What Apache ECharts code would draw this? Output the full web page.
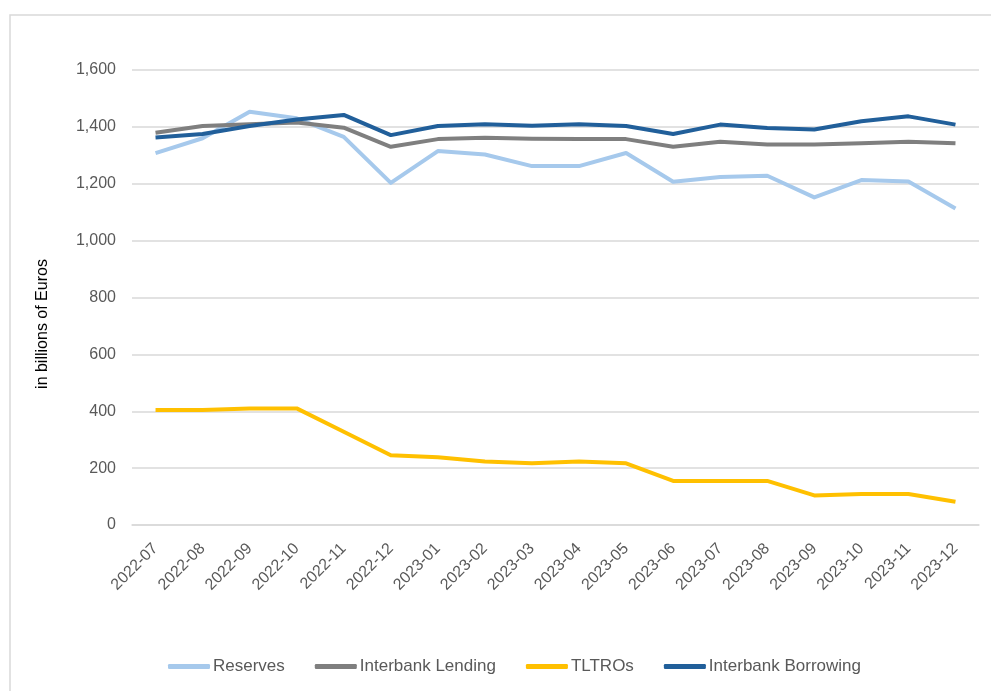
<!DOCTYPE html>
<html>
<head>
<meta charset="utf-8">
<script src="https://cdn.jsdelivr.net/npm/echarts@6/dist/echarts.min.js"></script>
<style>
  html, body { margin: 0; padding: 0; background: #fff; }
  #chart { width: 991px; height: 691px; }
</style>
</head>
<body>
<div id="chart"></div>
<script>
// months on the x axis
var months = ["2022-07", "2022-08", "2022-09", "2022-10", "2022-11", "2022-12",
  "2023-01", "2023-02", "2023-03", "2023-04", "2023-05", "2023-06",
  "2023-07", "2023-08", "2023-09", "2023-10", "2023-11", "2023-12"];

// billions of euros
var reserves = [1308, 1360, 1453, 1430, 1365, 1203, 1315, 1303, 1262, 1262, 1308, 1207, 1224, 1228, 1152, 1213, 1208, 1113];
var interbankLending = [1379, 1403, 1409, 1415, 1397, 1330, 1357, 1362, 1358, 1357, 1357, 1330, 1348, 1338, 1338, 1342, 1348, 1342];
var tltros = [404, 404, 410, 410, 328, 245, 238, 223, 217, 223, 217, 155, 155, 155, 104, 109, 109, 82];
var interbankBorrowing = [1363, 1375, 1403, 1426, 1442, 1371, 1403, 1409, 1404, 1409, 1403, 1375, 1408, 1396, 1391, 1420, 1437, 1408];

var myChart = echarts.init(document.getElementById("chart"));

function line(name, data, color) {
  return {
    name: name,
    type: "line",
    data: data,
    symbol: "none",
    lineStyle: { width: 4, color: color, join: "round" },
    itemStyle: { color: color }
  };
}

var option = {
  backgroundColor: "#fff",
  animation: false,
  textStyle: { fontFamily: "Liberation Sans" },
  graphic: [
    {
      type: "rect",
      shape: { x: 10, y: 15, width: 1000, height: 700 },
      style: { fill: "none", stroke: "#d9d9d9", lineWidth: 1.5 },
      silent: true
    },
    {
      // y axis title
      type: "text",
      x: 43,
      y: 324,
      rotation: Math.PI / 2,
      style: {
        text: "in billions of Euros",
        fill: "#000",
        font: "16px 'Liberation Sans'",
        align: "center",
        verticalAlign: "middle"
      },
      silent: true
    }
  ],
  grid: { left: 132, right: 12, top: 70, bottom: 166 },
  legend: {
    bottom: 11,
    left: 163,
    itemWidth: 42,
    itemHeight: 5,
    itemGap: 30,
    icon: "roundRect",
    textStyle: { fontSize: 17, color: "#595959", padding: [0, 0, 0, -2] },
    data: ["Reserves", "Interbank Lending", "TLTROs", "Interbank Borrowing"]
  },
  xAxis: {
    type: "category",
    data: months,
    boundaryGap: true,
    axisLine: { show: true, lineStyle: { color: "#d9d9d9", width: 1.5 } },
    axisTick: { show: false },
    axisLabel: { rotate: 45, color: "#595959", fontSize: 16, margin: 21, interval: 0 }
  },
  yAxis: {
    type: "value",
    min: 0,
    max: 1600,
    interval: 200,
    axisLine: { show: false },
    axisTick: { show: false },
    splitLine: { lineStyle: { color: "#d9d9d9", width: 1.5 } },
    axisLabel: {
      color: "#595959",
      fontSize: 16,
      margin: 16,
      formatter: function (v) { return v.toLocaleString("en-US"); }
    }
  },
  series: [
    line("Reserves", reserves, "#a6c9ec"),
    line("Interbank Lending", interbankLending, "#7f7f7f"),
    line("TLTROs", tltros, "#ffc000"),
    line("Interbank Borrowing", interbankBorrowing, "#215f9a")
  ]
};

myChart.setOption(option);
</script>
</body>
</html>
